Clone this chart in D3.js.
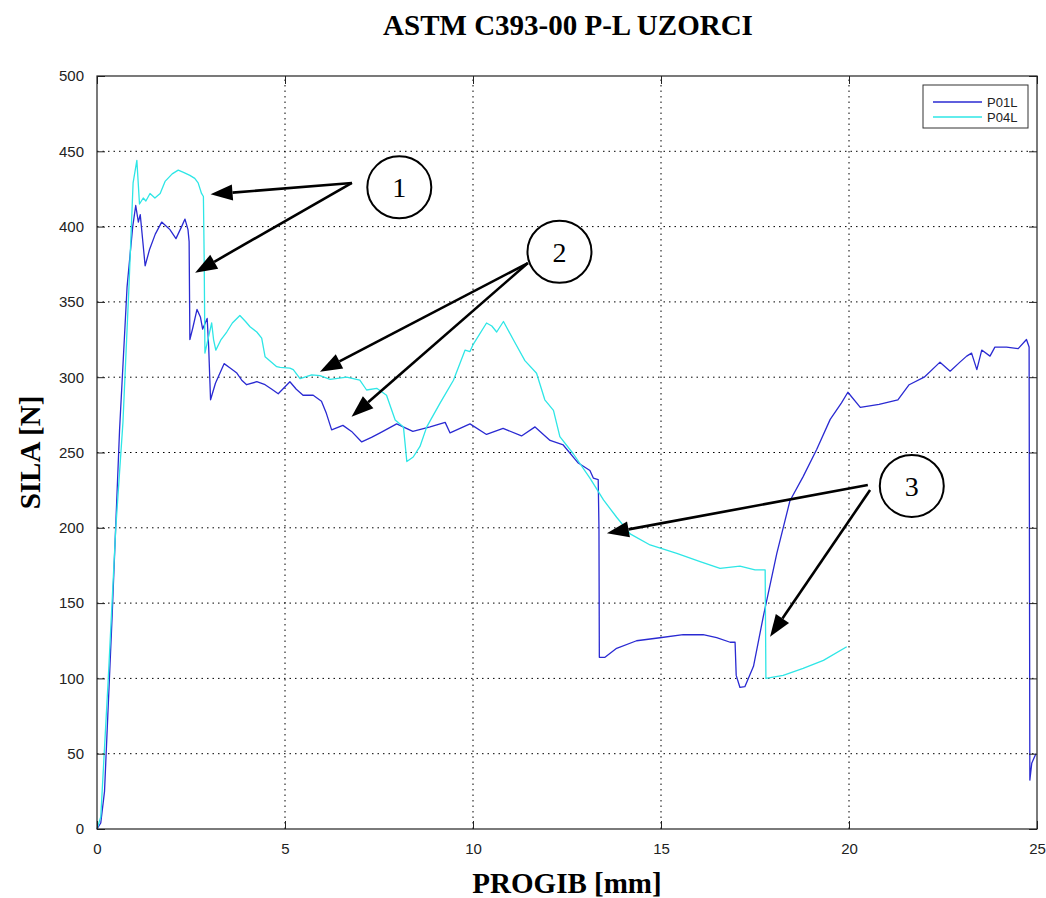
<!DOCTYPE html>
<html>
<head>
<meta charset="utf-8">
<script src="https://cdn.jsdelivr.net/npm/d3@7"></script>
<style>
  body { margin: 0; background: #fff; }
  .tick text { font-family: "Liberation Sans", Arial, sans-serif; font-size: 15px; fill: #222; }
  .label { font-family: "Liberation Serif", "Times New Roman", serif; font-weight: bold; font-size: 29px; }
</style>
</head>
<body>
<svg id="chart"></svg>
<script>
// P01L series [progib mm, sila N]
const p01 = [[0,0],[0.1,4],[0.2,25],[0.4,140],[0.6,265],[0.8,360],[0.95,400],[1.03,414],[1.1,403],[1.15,408],[1.28,374],[1.4,385],[1.55,395],[1.72,403],[1.85,400],[1.94,398],[2.1,392],[2.25,400],[2.34,405],[2.42,398],[2.45,390],[2.47,325],[2.55,333],[2.66,345],[2.75,340],[2.81,332],[2.93,339],[2.97,320],[3.02,285],[3.15,296],[3.38,309],[3.55,306],[3.71,303],[3.85,298],[3.98,295],[4.25,297],[4.47,295],[4.65,292],[4.82,289],[5.13,297],[5.3,292],[5.48,288],[5.75,288],[5.97,284],[6.1,276],[6.24,265],[6.54,268],[6.77,264],[7.04,257],[7.3,260],[7.53,263],[7.97,269],[8.4,264],[8.86,267],[9.26,270],[9.39,263],[9.92,269],[10.36,262],[10.8,266],[11.29,261],[11.65,267],[12.05,258],[12.4,255],[12.8,243],[13.11,238],[13.2,233],[13.33,232],[13.35,200],[13.36,114],[13.51,114],[13.82,120],[14.35,125],[14.97,127],[15.59,129],[16.12,129],[16.48,127],[16.84,124],[16.97,124],[17.0,102],[17.1,94],[17.23,94.5],[17.46,108],[17.72,141],[18.08,183],[18.43,218],[18.78,234],[19.14,252],[19.5,272],[19.8,283],[19.97,290],[20.3,280],[20.8,282],[21.3,285],[21.6,295],[22.0,300],[22.42,310],[22.69,304],[22.95,310],[23.13,314],[23.26,316],[23.4,305],[23.53,318],[23.75,314],[23.88,320],[24.19,320],[24.5,319],[24.72,325],[24.79,320],[24.81,32.5],[24.86,43.6],[24.97,50]];

// P04L series [progib mm, sila N]
const p04 = [[0,0],[0.1,8],[0.3,100],[0.5,200],[0.69,270],[0.85,360],[0.96,429],[1.06,444],[1.13,415],[1.23,419],[1.3,417],[1.41,422],[1.54,419],[1.68,422],[1.81,430],[2.0,435],[2.16,437.5],[2.3,436],[2.47,434],[2.6,432],[2.69,429],[2.78,422],[2.83,420],[2.85,380],[2.87,316],[2.95,325],[3.05,336],[3.1,325],[3.16,318],[3.3,325],[3.45,330],[3.6,336],[3.8,341],[3.95,337],[4.07,333.5],[4.25,330],[4.38,326],[4.47,313.6],[4.78,307],[4.87,306.5],[5.13,306],[5.22,305],[5.4,299],[5.71,301.5],[5.93,301],[6.2,298.6],[6.64,300],[6.99,298],[7.17,291.5],[7.44,292.6],[7.7,288],[7.93,271.6],[8.15,267],[8.24,244],[8.41,247],[8.59,254],[8.77,267],[9.12,282.6],[9.48,298],[9.79,318],[9.92,317],[10.01,322],[10.36,336],[10.5,334],[10.63,330],[10.81,337],[11.07,325],[11.38,311],[11.69,302.6],[11.91,285],[12.14,278],[12.31,260.5],[12.67,249],[13.11,233],[13.47,218.5],[13.82,207],[14.18,196],[14.71,188.6],[15.42,183],[16.04,177.5],[16.57,173],[17.1,174.6],[17.5,172],[17.77,172],[17.79,100],[18.25,102],[18.78,106.6],[19.32,112],[19.94,121]];

const xTicks = [0, 5, 10, 15, 20, 25];
const yTicks = [0, 50, 100, 150, 200, 250, 300, 350, 400, 450, 500];
const seriesNames = ["P01L", "P04L"];

// numbered callouts (data units) and their arrows
const callouts = [
  { label: "1", cx: 8.04, cy: 426.1, arrows: [[6.78, 429, 3.02, 421.4], [6.78, 429, 2.61, 369.4]] },
  { label: "2", cx: 12.3, cy: 383.3, arrows: [[11.46, 375.8, 5.93, 303.7], [11.46, 375.8, 6.77, 273.8]] },
  { label: "3", cx: 21.67, cy: 227.8, arrows: [[20.5, 228.4, 13.56, 196.3], [20.56, 225.1, 17.9, 127.7]] }
];

const width = 1046, height = 898;
const margin = { top: 76, right: 9, bottom: 69, left: 97 };
const colors = ["#2a2ad2", "#2ee6e6"];

const svg = d3.select("#chart").attr("width", width).attr("height", height);

const x = d3.scaleLinear().domain([0, 25]).range([margin.left, width - margin.right]);
const y = d3.scaleLinear().domain([0, 500]).range([height - margin.bottom, margin.top]);

// grid
const grid = svg.append("g").attr("stroke", "#000").attr("stroke-width", 1).attr("stroke-dasharray", "1.5,4");
grid.selectAll(".gx").data(xTicks.slice(1, -1)).enter().append("line")
  .attr("x1", (d) => x(d)).attr("x2", (d) => x(d))
  .attr("y1", y(0)).attr("y2", y(500));
grid.selectAll(".gy").data(yTicks.slice(1, -1)).enter().append("line")
  .attr("y1", (d) => y(d)).attr("y2", (d) => y(d))
  .attr("x1", x(0)).attr("x2", x(25));

// lines
const line = d3.line().x((d) => x(d[0])).y((d) => y(d[1]));
[p01, p04].forEach((data, i) => {
  svg.append("path")
    .datum(data)
    .attr("fill", "none")
    .attr("stroke", colors[i])
    .attr("stroke-width", 1.3)
    .attr("stroke-linejoin", "round")
    .attr("d", line);
});

// axes, ticks inward on all sides
svg.append("g")
  .attr("transform", `translate(0,${y(0)})`)
  .call(d3.axisBottom(x).tickValues(xTicks).tickSizeInner(-8).tickSizeOuter(0).tickPadding(14))
  .call((g) => g.select(".domain").remove());
svg.append("g")
  .attr("transform", `translate(${x(0)},0)`)
  .call(d3.axisLeft(y).tickValues(yTicks).tickSizeInner(-8).tickSizeOuter(0).tickPadding(13))
  .call((g) => g.select(".domain").remove());
svg.append("g")
  .attr("transform", `translate(0,${y(500)})`)
  .call(d3.axisTop(x).tickValues(xTicks).tickSizeInner(-8).tickSizeOuter(0).tickFormat(""))
  .call((g) => g.select(".domain").remove());
svg.append("g")
  .attr("transform", `translate(${x(25)},0)`)
  .call(d3.axisRight(y).tickValues(yTicks).tickSizeInner(-8).tickSizeOuter(0).tickFormat(""))
  .call((g) => g.select(".domain").remove());
svg.selectAll(".tick line").attr("stroke", "#222");

svg.append("rect")
  .attr("x", x(0)).attr("y", y(500))
  .attr("width", x(25) - x(0)).attr("height", y(0) - y(500))
  .attr("fill", "none").attr("stroke", "#222").attr("stroke-width", 1.2);

// legend
const lg = svg.append("g").attr("transform", "translate(923,85)");
lg.append("rect").attr("width", 105).attr("height", 43).attr("fill", "#fff").attr("stroke", "#333");
seriesNames.forEach((name, i) => {
  lg.append("line").attr("x1", 10).attr("x2", 59).attr("y1", 17 + i * 15).attr("y2", 17 + i * 15)
    .attr("stroke", colors[i]).attr("stroke-width", 1.3);
  lg.append("text").attr("x", 64).attr("y", 22 + i * 15)
    .attr("font-family", "Liberation Sans, Arial, sans-serif").attr("font-size", 13).attr("fill", "#222")
    .text(name);
});

// callouts
callouts.forEach((c) => {
  c.arrows.forEach((a) => {
    const x1 = x(a[0]), y1 = y(a[1]), x2 = x(a[2]), y2 = y(a[3]);
    const ang = Math.atan2(y2 - y1, x2 - x1);
    const len = 22, hw = 8;
    const bx = x2 - len * Math.cos(ang), by = y2 - len * Math.sin(ang);
    svg.append("line").attr("x1", x1).attr("y1", y1).attr("x2", bx).attr("y2", by)
      .attr("stroke", "#000").attr("stroke-width", 2.6);
    svg.append("polygon")
      .attr("points", [
        [x2, y2],
        [bx + hw * Math.sin(ang), by - hw * Math.cos(ang)],
        [bx - hw * Math.sin(ang), by + hw * Math.cos(ang)]
      ].map((p) => p.join(",")).join(" "))
      .attr("fill", "#000");
  });
  svg.append("ellipse").attr("cx", x(c.cx)).attr("cy", y(c.cy)).attr("rx", 32).attr("ry", 31)
    .attr("fill", "#fff").attr("stroke", "#000").attr("stroke-width", 2);
  svg.append("text").attr("x", x(c.cx)).attr("y", y(c.cy) + 10)
    .attr("text-anchor", "middle")
    .attr("font-family", "Liberation Serif, Times New Roman, serif").attr("font-size", 28)
    .text(c.label);
});

// labels
svg.append("text").attr("class", "label").attr("x", 568).attr("y", 35)
  .attr("text-anchor", "middle").text("ASTM C393-00 P-L UZORCI");
svg.append("text").attr("class", "label").attr("x", x(12.5)).attr("y", 893)
  .attr("text-anchor", "middle").text("PROGIB [mm]");
svg.append("text").attr("class", "label")
  .attr("transform", `translate(40,${y(250)}) rotate(-90)`)
  .attr("text-anchor", "middle").text("SILA [N]");
</script>
</body>
</html>
